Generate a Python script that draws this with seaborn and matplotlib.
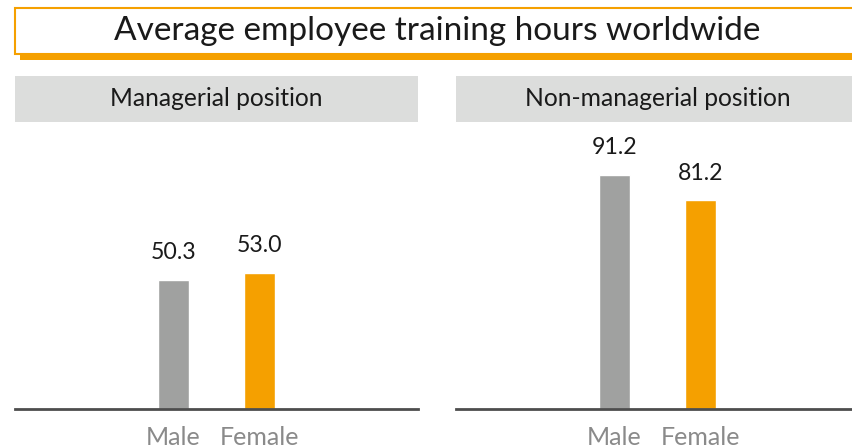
import matplotlib
matplotlib.use("Agg")
import matplotlib.pyplot as plt
from matplotlib.patches import Rectangle
import pandas as pd
import seaborn as sns

# Data.
genders = ["Male", "Female"]
managerial_hours = [50.3, 53.0]
non_managerial_hours = [91.2, 81.2]
panel_titles = ["Managerial position", "Non-managerial position"]
chart_title = "Average employee training hours worldwide"

GRAY = "#a0a1a0"
ORANGE = "#f5a000"
HEADER = "#dcdddc"
W, H = 852, 448

sns.set_theme(style="white")
plt.rcParams["font.family"] = ["Lato", "DejaVu Sans"]

fig = plt.figure(figsize=(W / 100, H / 100), dpi=100)


def px_box(x0, y0, x1, y1):
    """Convert a pixel box (top-left origin) to figure fractions."""
    return [x0 / W, 1 - y1 / H, (x1 - x0) / W, (y1 - y0) / H]


# Title box with offset orange shadow.
sx, sy, sw, sh = px_box(20, 54, 870, 60)
fig.patches.append(Rectangle((sx, sy), sw, sh, transform=fig.transFigure,
                             facecolor=ORANGE, edgecolor="none", zorder=1))
bx, by, bw, bh = px_box(15, 8, 870, 54)
fig.patches.append(Rectangle((bx, by), bw, bh, transform=fig.transFigure,
                             facecolor="white", edgecolor=ORANGE, lw=1.5, zorder=2))
fig.text(437 / W, 1 - 31 / H, chart_title, ha="center", va="center",
         fontsize=24, color="#1a1a1a", zorder=3)

panels = [
    (15, 418, managerial_hours),
    (456, 859, non_managerial_hours),
]

for (x0, x1, values), title in zip(panels, panel_titles):
    # Gray header band.
    hx, hy, hw, hh = px_box(x0, 76, min(x1, W + 10), 122)
    fig.patches.append(Rectangle((hx, hy), hw, hh, transform=fig.transFigure,
                                 facecolor=HEADER, edgecolor="none"))
    fig.text((x0 + x1) / 2 / W, 1 - 98 / H, title, ha="center", va="center",
             fontsize=17.7, color="#1a1a1a")

    ax = fig.add_axes(px_box(x0, 122, x1, 409))
    df = pd.DataFrame({"gender": genders, "hours": values})
    sns.barplot(data=df, x="gender", y="hours", hue="gender",
                palette=[GRAY, ORANGE], width=0.36, ax=ax, legend=False,
                saturation=1)
    for container in ax.containers:
        ax.bar_label(container, fmt="%.1f", padding=12, fontsize=16.7,
                     color="#1a1a1a")

    ax.set_xlim(-1.843, 2.843)
    ax.set_ylim(0, 111.7)
    ax.set_xlabel("")
    ax.set_ylabel("")
    ax.set_yticks([])
    ax.tick_params(axis="x", length=0, pad=12, labelsize=18,
                   labelcolor="#8a8a8a")
    for side in ["top", "left", "right"]:
        ax.spines[side].set_visible(False)
    ax.spines["bottom"].set_color("#4d4d4d")
    ax.spines["bottom"].set_linewidth(2)
    ax.patch.set_alpha(0)

fig.savefig("out.png", dpi=100)
